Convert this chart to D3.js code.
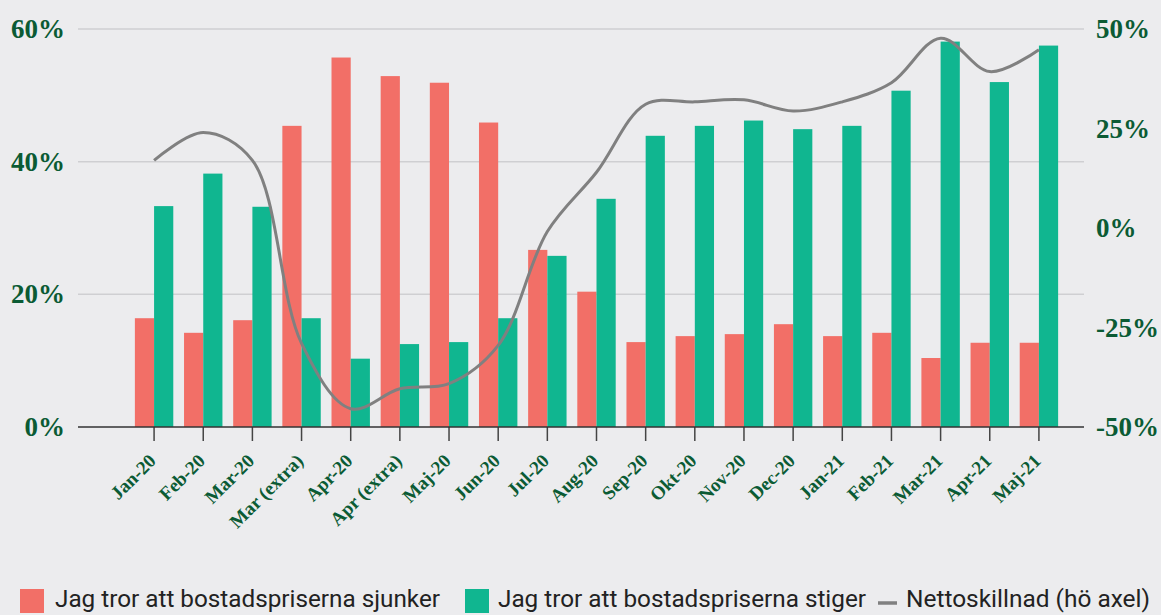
<!DOCTYPE html>
<html>
<head>
<meta charset="utf-8">
<script src="https://cdn.jsdelivr.net/npm/d3@7"></script>
<style>
  body { margin: 0; background: #ececee; }
  svg { display: block; }
</style>
</head>
<body>
<div id="chart"></div>
<script>
// Data
const categories = ["Jan-20", "Feb-20", "Mar-20", "Mar (extra)", "Apr-20", "Apr (extra)", "Maj-20", "Jun-20",
  "Jul-20", "Aug-20", "Sep-20", "Okt-20", "Nov-20", "Dec-20", "Jan-21", "Feb-21", "Mar-21", "Apr-21", "Maj-21"];
const sjunker = [16.4, 14.2, 16.1, 45.4, 55.7, 52.9, 51.9, 45.9, 26.7, 20.4, 12.8, 13.7, 14.0, 15.5, 13.7, 14.2, 10.4, 12.7, 12.7];
const stiger = [33.3, 38.2, 33.2, 16.4, 10.3, 12.5, 12.8, 16.4, 25.8, 34.4, 43.9, 45.4, 46.2, 44.9, 45.4, 50.7, 58.1, 52.0, 57.5];
const netto = [17, 24, 17, -29, -45.4, -40.4, -39.1, -29.5, -0.9, 14, 31.1, 31.7, 32.2, 29.4, 31.7, 36.5, 47.7, 39.3, 44.8];
const leftTicks = [0, 20, 40, 60];
const rightTicks = [-50, -25, 0, 25, 50];
const seriesNames = ["Jag tror att bostadspriserna sjunker", "Jag tror att bostadspriserna stiger", "Nettoskillnad (hö axel)"];

const width = 1161, height = 615;
const plotLeft = 78, plotRight = 1084, plotTop = 29, plotBottom = 427;
const red = "#f26f67", green = "#10b690", lineGray = "#808080", labelGreen = "#0b5b34";

const svg = d3.select("#chart").append("svg")
  .attr("width", width)
  .attr("height", height);

svg.append("rect").attr("width", width).attr("height", height).attr("fill", "#ececee");

// scales
const x = d3.scaleBand().domain(categories).range([129.5, 1063.5]);
const x1 = d3.scaleBand().domain(["sjunker", "stiger"]).range([0, x.bandwidth()]).paddingOuter(0.28);
const yLeft = d3.scaleLinear().domain([0, 60]).range([plotBottom, plotTop]);
const yRight = d3.scaleLinear().domain([-50, 50]).range([plotBottom, plotTop]);

// gridlines (left axis)
svg.append("g")
  .selectAll("line")
  .data(leftTicks.filter((d) => d > 0))
  .enter()
  .append("line")
  .attr("x1", plotLeft)
  .attr("x2", plotRight)
  .attr("y1", (d) => yLeft(d))
  .attr("y2", (d) => yLeft(d))
  .attr("stroke", "#cfcfd2")
  .attr("stroke-width", 1.5);

// left axis labels
const axisFont = "'Liberation Serif', 'DejaVu Serif', serif";
svg.append("g")
  .attr("transform", `translate(${plotLeft - 10},0)`)
  .call(d3.axisLeft(yLeft).tickValues(leftTicks).tickSize(0).tickFormat((d) => d + "%"))
  .call((g) => g.select(".domain").remove())
  .selectAll("text")
  .attr("fill", labelGreen)
  .attr("font-family", axisFont)
  .attr("font-weight", "bold")
  .attr("font-size", 27);

// right axis labels
svg.append("g")
  .attr("transform", `translate(${plotRight + 9},0)`)
  .call(d3.axisRight(yRight).tickValues(rightTicks).tickSize(0).tickFormat((d) => d + "%"))
  .call((g) => g.select(".domain").remove())
  .selectAll("text")
  .attr("fill", labelGreen)
  .attr("font-family", axisFont)
  .attr("font-weight", "bold")
  .attr("font-size", 27);

// bars
const groups = svg.append("g")
  .selectAll("g")
  .data(categories)
  .enter()
  .append("g")
  .attr("transform", (d) => `translate(${x(d)},0)`);

groups.append("rect")
  .attr("x", x1("sjunker"))
  .attr("width", x1.bandwidth())
  .attr("y", (d, i) => yLeft(sjunker[i]))
  .attr("height", (d, i) => plotBottom - yLeft(sjunker[i]))
  .attr("fill", red);

groups.append("rect")
  .attr("x", x1("stiger"))
  .attr("width", x1.bandwidth())
  .attr("y", (d, i) => yLeft(stiger[i]))
  .attr("height", (d, i) => plotBottom - yLeft(stiger[i]))
  .attr("fill", green);

// net line (right axis)
const line = d3.line()
  .x((d, i) => x(categories[i]) + x.bandwidth() / 2)
  .y((d) => yRight(d))
  .curve(d3.curveCatmullRom.alpha(0.5));

svg.append("path")
  .datum(netto)
  .attr("fill", "none")
  .attr("stroke", lineGray)
  .attr("stroke-width", 3)
  .attr("d", line);

// x axis
const xAxis = svg.append("g")
  .attr("transform", `translate(0,${plotBottom})`)
  .call(d3.axisBottom(x).tickSize(14).tickSizeOuter(0));
xAxis.select(".domain").remove();
xAxis.selectAll(".tick line").attr("stroke", "#444").attr("stroke-width", 1.5);
xAxis.selectAll("text")
  .attr("fill", labelGreen)
  .attr("font-family", axisFont)
  .attr("font-weight", "bold")
  .attr("font-size", 19)
  .attr("text-anchor", "end")
  .attr("dy", 0)
  .attr("y", 0)
  .attr("transform", "translate(3,35) rotate(-45)");

svg.append("line")
  .attr("x1", plotLeft)
  .attr("x2", plotRight)
  .attr("y1", plotBottom)
  .attr("y2", plotBottom)
  .attr("stroke", "#333")
  .attr("stroke-width", 1.5);

// legend
const legend = svg.append("g").attr("font-family", "Roboto, sans-serif").attr("font-size", 24).attr("fill", "#222");
legend.append("rect").attr("x", 20).attr("y", 589).attr("width", 24).attr("height", 24).attr("fill", red);
legend.append("text").attr("x", 55).attr("y", 607)
  .attr("textLength", 385).attr("lengthAdjust", "spacingAndGlyphs").text(seriesNames[0]);
legend.append("rect").attr("x", 465).attr("y", 589).attr("width", 24).attr("height", 24).attr("fill", green);
legend.append("text").attr("x", 498).attr("y", 607)
  .attr("textLength", 368).attr("lengthAdjust", "spacingAndGlyphs").text(seriesNames[1]);
legend.append("line").attr("x1", 878).attr("x2", 897).attr("y1", 603).attr("y2", 603)
  .attr("stroke", lineGray).attr("stroke-width", 3.5);
legend.append("text").attr("x", 906).attr("y", 607)
  .attr("textLength", 244).attr("lengthAdjust", "spacingAndGlyphs").text(seriesNames[2]);
</script>
</body>
</html>
